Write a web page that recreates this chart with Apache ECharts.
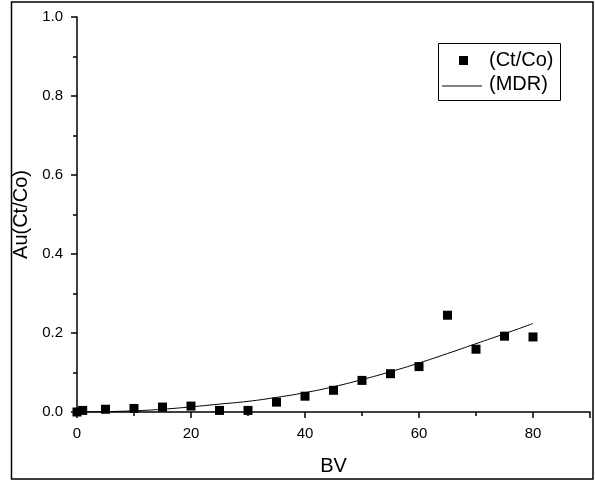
<!DOCTYPE html>
<html>
<head>
<meta charset="utf-8">
<script src="https://cdn.jsdelivr.net/npm/echarts@6/dist/echarts.min.js"></script>
<style>
html,body{margin:0;padding:0;background:#fff;}
#chart{width:595px;height:481px;}
</style>
</head>
<body>
<div id="chart"></div>
<script>
// Measured points (Ct/Co)
var bvPoints = [0, 1, 5, 10, 15, 20, 25, 30, 35, 40, 45, 50, 55, 60, 65, 70, 75, 80];
var ctcoValues = [0.000, 0.004, 0.007, 0.009, 0.0125, 0.015, 0.004, 0.004, 0.025, 0.040, 0.055, 0.080, 0.097, 0.115, 0.245, 0.159, 0.192, 0.190];
// Model curve (MDR)
var bvCurve = [0, 5, 10, 15, 20, 25, 30, 35, 40, 45, 50, 55, 60, 65, 70, 75, 80];
var mdrValues = [0.000, 0.001, 0.003, 0.007, 0.013, 0.020, 0.027, 0.037, 0.049, 0.064, 0.082, 0.102, 0.124, 0.148, 0.173, 0.198, 0.224];
var xTicks = [0, 20, 40, 60, 80];
var yTicks = [0.0, 0.2, 0.4, 0.6, 0.8, 1.0];
var seriesNames = ['(Ct/Co)', '(MDR)'];
var xTitle = 'BV';
var yTitle = 'Au(Ct/Co)';

function pairs(xs, ys) { return xs.map(function (x, i) { return [x, ys[i]]; }); }

var font = 'Liberation Sans, Arial, sans-serif';
var chart = echarts.init(document.getElementById('chart'), null, {renderer: 'canvas'});
chart.setOption({
  animation: false,
  backgroundColor: '#fff',
  grid: {left: 77, right: 5, top: 17, bottom: 65, containLabel: false},
  legend: {show: false},
  graphic: [
    {type: 'rect', shape: {x: 11.5, y: 2, width: 581.5, height: 477},
     style: {fill: 'none', stroke: '#000', lineWidth: 1.5}, silent: true, z: 100},
    // legend frame and entries
    {type: 'rect', shape: {x: 438.5, y: 43.5, width: 122, height: 57},
     style: {fill: '#fff', stroke: '#000', lineWidth: 1}, silent: true, z: 50},
    {type: 'rect', shape: {x: 459, y: 56, width: 9, height: 9},
     style: {fill: '#000'}, silent: true, z: 51},
    {type: 'line', shape: {x1: 442, y1: 86, x2: 482, y2: 86},
     style: {stroke: '#000', lineWidth: 1}, silent: true, z: 51},
    {type: 'text', left: 489, top: 50, z: 51, silent: true,
     style: {text: seriesNames[0], font: '20px ' + font, fill: '#000'}},
    {type: 'text', left: 489, top: 74, z: 51, silent: true,
     style: {text: seriesNames[1], font: '20px ' + font, fill: '#000'}}
  ],
  xAxis: {
    type: 'value', min: 0, max: 90, interval: 20,
    name: xTitle, nameLocation: 'middle', nameGap: 44,
    nameTextStyle: {fontFamily: font, fontSize: 20, color: '#000'},
    axisLine: {show: true, onZero: false, lineStyle: {color: '#000', width: 1.5}},
    axisTick: {show: true, inside: false, length: 6, lineStyle: {color: '#000', width: 1.5}},
    minorTick: {show: true, splitNumber: 2, length: 4, lineStyle: {color: '#000', width: 1.5}},
    axisLabel: {fontFamily: font, fontSize: 15, color: '#000', margin: 14,
      formatter: function (v) { return xTicks.indexOf(v) >= 0 ? String(v) : ''; }},
    splitLine: {show: false}
  },
  yAxis: {
    type: 'value', min: 0, max: 1, interval: 0.2,
    name: yTitle, nameLocation: 'middle', nameGap: 39,
    nameTextStyle: {fontFamily: font, fontSize: 20, color: '#000'},
    axisLine: {show: true, onZero: false, lineStyle: {color: '#000', width: 1.5}},
    axisTick: {show: true, inside: false, length: 6, lineStyle: {color: '#000', width: 1.5}},
    minorTick: {show: true, splitNumber: 2, length: 4, lineStyle: {color: '#000', width: 1.5}},
    axisLabel: {fontFamily: font, fontSize: 15, color: '#000', margin: 14,
      formatter: function (v) {
        var hit = yTicks.filter(function (t) { return Math.abs(t - v) < 1e-9; });
        return hit.length ? hit[0].toFixed(1) : '';
      }},
    splitLine: {show: false}
  },
  series: [
    {
      name: seriesNames[0], type: 'scatter', symbol: 'rect', symbolSize: 9,
      itemStyle: {color: '#000', opacity: 1}, z: 3,
      data: pairs(bvPoints, ctcoValues)
    },
    {
      name: seriesNames[1], type: 'line', smooth: true, showSymbol: false, symbol: 'none',
      lineStyle: {color: '#000', width: 1}, itemStyle: {color: '#000'}, z: 2,
      data: pairs(bvCurve, mdrValues)
    }
  ]
});
</script>
</body>
</html>
